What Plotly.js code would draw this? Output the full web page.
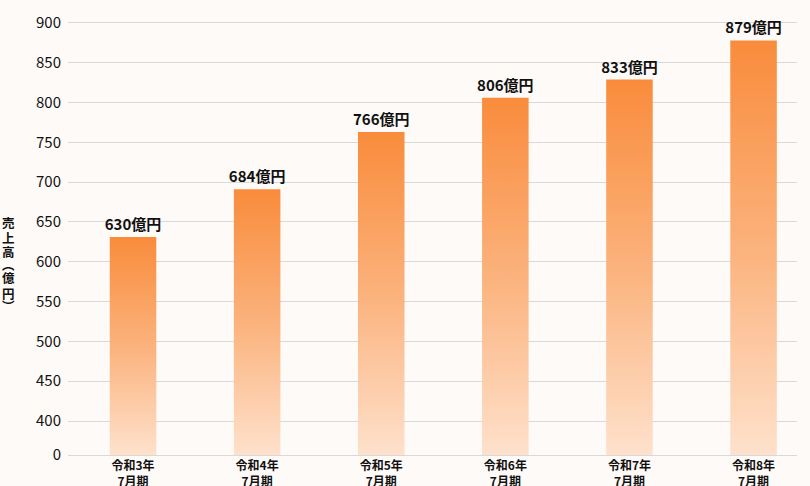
<!DOCTYPE html>
<html>
<head>
<meta charset="utf-8">
<script src="https://cdn.plot.ly/plotly-3.0.1.min.js"></script>
<style>
html,body{margin:0;padding:0;background:#fefaf8;}
#chart{width:810px;height:486px;}
</style>
</head>
<body>
<div id="chart"></div>
<script>
// Data
const categories = ['令和3年<br>7月期','令和4年<br>7月期','令和5年<br>7月期','令和6年<br>7月期','令和7年<br>7月期','令和8年<br>7月期'];
const barHeights = [631, 691, 763, 806, 829, 878];   // bar heights as drawn
const labelValues = [630, 684, 766, 806, 833, 879]; // printed labels
const yTickVals = [400, 450, 500, 550, 600, 650, 700, 750, 800, 850, 900];
const axisBreakValue = 357.3; // value position shown as "0" (broken axis)
const yTitleChars = ['売', '上', '高', '︵', '億', '円', '︶'];

const baseArr = categories.map(() => axisBreakValue);
const lengths = barHeights.map(v => v - axisBreakValue);
const labels = labelValues.map(v => v + '億円');

const font = 'Noto Sans CJK JP, Noto Sans, sans-serif';

const trace = {
  type: 'bar',
  x: categories,
  y: lengths,
  base: baseArr,
  width: 0.375,
  marker: {color: '#f98e40', line: {width: 0}},
  text: labels,
  textposition: 'outside',
  constraintext: 'none',
  cliponaxis: false,
  textfont: {family: font, size: 15, color: '#111', weight: 700},
  hoverinfo: 'none'
};

// vertical y-axis title: one annotation per character (pixel centres)
const titleCentersPx = [223, 238, 251.5, 264.5, 277.5, 293.5, 305.5];
const plotTop = 19.3, plotH = 436;
const titleAnns = yTitleChars.map((ch, i) => ({
  xref: 'paper', yref: 'paper',
  x: (8 - 68) / 729, y: 1 - (titleCentersPx[i] - plotTop) / plotH,
  xanchor: 'center', yanchor: 'middle',
  showarrow: false,
  text: ch,
  font: {family: font, size: 12.5, color: '#111', weight: 700}
}));

const layout = {
  width: 810, height: 486,
  paper_bgcolor: '#fefaf8', plot_bgcolor: '#fefaf8',
  margin: {l: 68, r: 13, t: plotTop, b: 486 - plotTop - plotH},
  showlegend: false,
  font: {family: font, color: '#111'},
  xaxis: {
    type: 'category',
    range: [-0.524, 5.35],
    showgrid: false, zeroline: false,
    showline: true, linecolor: '#d9d9d9', linewidth: 1,
    ticks: '',
    tickfont: {family: font, size: 12, color: '#111', weight: 700},
    automargin: false
  },
  yaxis: {
    range: [axisBreakValue, 905],
    tickvals: [axisBreakValue].concat(yTickVals),
    ticktext: ['0'].concat(yTickVals.map(String)),
    showgrid: true, gridcolor: '#d9d9d9', gridwidth: 1,
    zeroline: false, showline: false,
    ticks: '',
    ticklabelstandoff: 6,
    tickfont: {family: font, size: 15, color: '#111'},
    automargin: false
  },
  annotations: titleAnns
};

Plotly.newPlot('chart', [trace], layout, {displayModeBar: false, staticPlot: true}).then(gd => {
  const svg = gd.querySelector('svg.main-svg');
  const ns = 'http://www.w3.org/2000/svg';
  let defs = svg.querySelector('defs');
  if (!defs) { defs = document.createElementNS(ns, 'defs'); svg.insertBefore(defs, svg.firstChild); }
  const lg = document.createElementNS(ns, 'linearGradient');
  lg.setAttribute('id', 'barGrad');
  lg.setAttribute('x1', '0'); lg.setAttribute('y1', '0');
  lg.setAttribute('x2', '0'); lg.setAttribute('y2', '1');
  [['0', '#f98c3c'], ['0.5', '#fbb27c'], ['1', '#fee1cc']].forEach(([o, c]) => {
    const s = document.createElementNS(ns, 'stop');
    s.setAttribute('offset', o); s.setAttribute('stop-color', c);
    lg.appendChild(s);
  });
  defs.appendChild(lg);
  gd.querySelectorAll('.barlayer .point path').forEach(p => {
    p.style.fill = 'url(#barGrad)';
  });
});
</script>
</body>
</html>
